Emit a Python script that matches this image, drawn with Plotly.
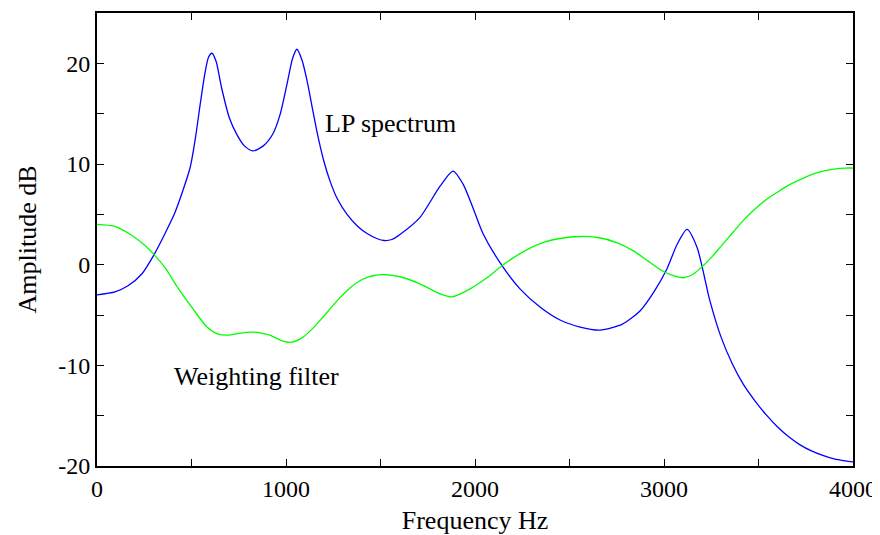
import plotly.graph_objects as go

lp_freq = [0, 95, 164, 238, 302, 360, 413, 492, 520, 545, 571, 590, 608, 630, 660, 700,
           741, 780, 825, 880, 931, 970, 1005, 1035, 1058, 1085, 1111, 1140, 1164, 1200,
           1233, 1270, 1323, 1380, 1429, 1480, 1520, 1560, 1603, 1709, 1815, 1884, 1937,
           1990, 2042, 2143, 2238, 2344, 2450, 2556, 2661, 2780, 2873, 2950, 3016, 3069,
           3122, 3175, 3243, 3300, 3360, 3420, 3480, 3540, 3600, 3660, 3720, 3780, 3840,
           3900, 3960, 4000]
lp_db = [-3.0, -2.7, -2.1, -0.9, 1.0, 3.1, 5.2, 9.6, 12.5, 15.8, 19.0, 20.6, 21.0, 20.2,
         17.5, 14.6, 12.9, 11.8, 11.3, 11.8, 13.0, 15.0, 17.9, 20.5, 21.4, 20.3, 18.3,
         15.5, 13.2, 10.3, 8.3, 6.6, 5.0, 3.8, 3.1, 2.6, 2.4, 2.5, 3.0, 4.7, 7.8, 9.3,
         8.0, 5.6, 3.1, -0.1, -2.4, -4.2, -5.5, -6.2, -6.5, -5.9, -4.6, -2.6, -0.4, 2.0,
         3.5, 1.7, -3.6, -7.1, -9.8, -11.9, -13.5, -14.9, -16.1, -17.1, -17.9, -18.5,
         -18.95, -19.3, -19.5, -19.6]

wf_freq = [0, 95, 185, 254, 302, 360, 428, 508, 582, 640, 700, 760, 820, 870, 915, 984,
           1032, 1090, 1143, 1196, 1270, 1340, 1400, 1460, 1530, 1603, 1709, 1815, 1878,
           1974, 2063, 2143, 2238, 2344, 2450, 2556, 2650, 2750, 2836, 2920, 2990, 3050,
           3101, 3150, 3190, 3250, 3300, 3360, 3420, 3480, 3540, 3600, 3660, 3720, 3780,
           3840, 3900, 3960, 4000]
wf_db = [4.0, 3.8, 2.9, 1.9, 1.0, -0.3, -2.3, -4.4, -6.2, -6.9, -7.0, -6.8, -6.7, -6.8,
         -7.0, -7.6, -7.7, -7.2, -6.3, -5.2, -3.6, -2.3, -1.5, -1.1, -1.0, -1.2, -1.9,
         -2.9, -3.2, -2.4, -1.3, -0.1, 1.1, 2.1, 2.6, 2.8, 2.7, 2.2, 1.4, 0.3, -0.6, -1.1,
         -1.3, -1.0, -0.4, 0.7, 1.8, 3.1, 4.4, 5.5, 6.45, 7.2, 7.9, 8.45, 8.95, 9.3, 9.5,
         9.6, 9.6]

x_tickvals = [0, 500, 1000, 1500, 2000, 2500, 3000, 3500, 4000]
x_ticktext = ["0", "", "1000", "", "2000", "", "3000", "", "4000"]
y_tickvals = [-20, -15, -10, -5, 0, 5, 10, 15, 20]
y_ticktext = ["-20", "", "-10", "", "0", "", "10", "", "20"]

font_family = "Liberation Serif, Times New Roman, serif"

fig = go.Figure()
fig.add_trace(go.Scatter(x=lp_freq, y=lp_db, mode="lines",
                         line=dict(color="#0000ff", width=1.3, shape="spline", smoothing=0.7),
                         name="LP spectrum"))
fig.add_trace(go.Scatter(x=wf_freq, y=wf_db, mode="lines",
                         line=dict(color="#00ff00", width=1.3, shape="spline", smoothing=0.7),
                         name="Weighting filter"))

fig.add_annotation(x=1196, y=14.0, text="LP spectrum", showarrow=False,
                   xanchor="left", yanchor="middle", font=dict(size=26, color="black", family=font_family))
fig.add_annotation(x=397, y=-11.1, text="Weighting filter", showarrow=False,
                   xanchor="left", yanchor="middle", font=dict(size=26, color="black", family=font_family))

axis_common = dict(showgrid=False, zeroline=False, showline=True, linecolor="black",
                   linewidth=2, mirror="ticks", ticks="inside", ticklen=7, tickwidth=1,
                   tickcolor="black", automargin=False,
                   tickfont=dict(size=24, color="black", family=font_family))

fig.update_xaxes(range=[0, 4000], tickmode="array", tickvals=x_tickvals, ticktext=x_ticktext,
                 title=dict(text="Frequency Hz", font=dict(size=26, color="black", family=font_family),
                            standoff=10),
                 **axis_common)
fig.update_yaxes(range=[-20, 25], tickmode="array", tickvals=y_tickvals, ticktext=y_ticktext,
                 title=dict(text="Amplitude dB", font=dict(size=26, color="black", family=font_family),
                            standoff=14),
                 **axis_common)

# the page body has a default 8px margin, so the figure is sized to fit inside the window
fig.update_layout(width=872, height=527, showlegend=False,
                  plot_bgcolor="white", paper_bgcolor="white",
                  margin=dict(l=89, r=27, t=5, b=69))

fig.write_html("out.html")
